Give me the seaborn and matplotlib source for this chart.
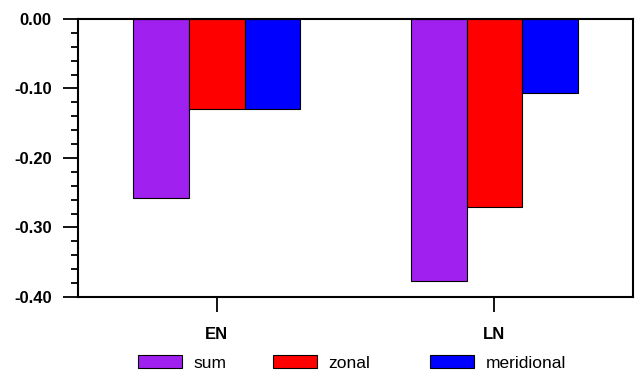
import numpy as np
import pandas as pd
import matplotlib
matplotlib.use("Agg")
import matplotlib.pyplot as plt
from matplotlib.ticker import MultipleLocator, FormatStrFormatter
from matplotlib.patches import Patch
import seaborn as sns

# data
CATEGORIES = ["EN", "LN"]
SERIES     = ["sum", "zonal", "meridional"]
SUM_VALS   = [-0.257, -0.377]
ZONAL_VALS = [-0.129, -0.270]
MERID_VALS = [-0.129, -0.107]
COLORS     = {"sum": "#A020F0", "zonal": "#FF0000", "meridional": "#0000FF"}

df = pd.DataFrame({
    "case": CATEGORIES * 3,
    "component": [s for s in SERIES for _ in CATEGORIES],
    "value": SUM_VALS + ZONAL_VALS + MERID_VALS,
})

sns.set_style("ticks")
plt.rcParams["font.family"] = ["Liberation Sans", "DejaVu Sans"]
plt.rcParams["text.color"] = "black"
plt.rcParams["xtick.color"] = "black"
plt.rcParams["ytick.color"] = "black"
plt.rcParams["axes.edgecolor"] = "black"

fig = plt.figure(figsize=(6.35, 3.71), dpi=100)
ax = fig.add_axes([0.1228, 0.1995, 0.8742, 0.7493])

sns.barplot(data=df, x="case", y="value", hue="component", hue_order=SERIES,
            palette=COLORS, saturation=1, width=0.6, gap=0, edgecolor="black",
            linewidth=0.8, errorbar=None, legend=False, ax=ax)

ax.set_xlim(-0.5, 1.5)
ax.set_ylim(-0.40, 0.0)
ax.yaxis.set_major_locator(MultipleLocator(0.1))
ax.yaxis.set_minor_locator(MultipleLocator(0.02))
ax.yaxis.set_major_formatter(FormatStrFormatter("%.2f"))
ax.set_xlabel("")
ax.set_ylabel("")

for s in ax.spines.values():
    s.set_linewidth(1.5)
    s.set_visible(True)
ax.tick_params(axis="both", which="major", direction="out", length=10.8, width=1.3,
               labelsize=12, pad=8)
ax.tick_params(axis="y", which="minor", direction="out", length=5, width=1.3)
ax.tick_params(axis="x", which="major", pad=10.5)
for lab in ax.get_xticklabels() + ax.get_yticklabels():
    lab.set_fontweight("bold")
    lab.set_fontsize(12)

# one legend entry per series, placed where the reference has them
legend_x = [138 / 635, 273 / 635, 430 / 635]
for s, x0 in zip(SERIES, legend_x):
    h = Patch(facecolor=COLORS[s], edgecolor="black", linewidth=0.8, label=s)
    fig.legend(handles=[h], loc="center left", bbox_to_anchor=(x0, 0.022),
               frameon=False, fontsize=12.5, handlelength=2.55, handleheight=0.8,
               handletextpad=0.65, borderpad=0, borderaxespad=0)

plt.savefig("out.png", dpi=100)
